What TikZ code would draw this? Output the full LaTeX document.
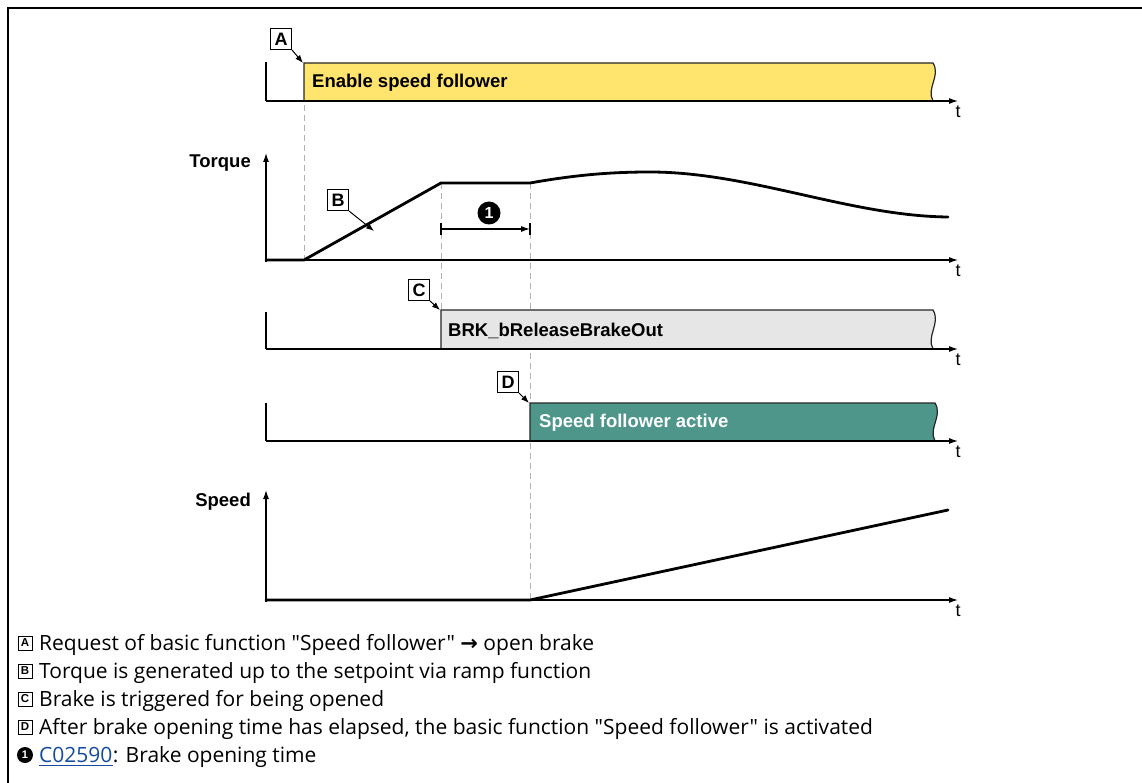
\documentclass[tikz,border=0pt]{standalone}
\usepackage{fontspec}
\setmainfont{Liberation Sans}
\newfontfamily\legendfont{Open Sans}
\newfontfamily\symfont{DejaVu Sans}
\usetikzlibrary{arrows.meta}
\definecolor{enyellow}{RGB}{255,228,110}
\definecolor{brkgray}{RGB}{230,230,230}
\definecolor{spteal}{RGB}{77,150,137}
\definecolor{linkblue}{RGB}{20,75,160}
\begin{document}
\begin{tikzpicture}[x=1pt,y=-1pt,
  axis/.style={line width=1.2pt,-{Latex[length=9pt,width=6pt]}},
  sig/.style={line width=1.2pt},
  barline/.style={draw=black!85,line width=1.2pt},
  curve/.style={line width=2.8pt,line join=round,line cap=round},
  guide/.style={draw=black!30,line width=1pt,dash pattern=on 6pt off 4pt},
  tag/.style={draw,fill=white,line width=1pt,minimum size=21pt,inner sep=0pt,font=\bfseries\fontsize{18}{18}\selectfont},
  pointer/.style={line width=1pt,-{Latex[length=8pt,width=6pt]}},
  lbl/.style={font=\bfseries\fontsize{18.5}{19}\selectfont,inner sep=0pt},
  tlbl/.style={font=\fontsize{18}{18}\selectfont,inner sep=0pt},
  legtag/.style={draw,line width=0.8pt,minimum size=14pt,inner sep=0pt,font=\bfseries\fontsize{11.5}{11.5}\selectfont},
  legtxt/.style={font=\legendfont\fontsize{21}{21}\selectfont,inner sep=0pt,anchor=base west},
  bigdot/.style={circle,fill=black,text=white,inner sep=0pt,minimum size=23pt,font=\bfseries\fontsize{16}{16}\selectfont},
  smalldot/.style={circle,fill=black,text=white,inner sep=0pt,minimum size=16pt,font=\bfseries\fontsize{11}{11}\selectfont}
]
\useasboundingbox (0,0) rectangle (1142,783);
% frame
\draw[line width=2.5pt] (8,783) -- (8,8) -- (1142,8);

% guide lines
\coordinate (gA1) at (304,85);
\coordinate (gA2) at (304,262);
\coordinate (gC1) at (441,183);
\coordinate (gC2) at (441,310);
\coordinate (gD1) at (530,183);
\coordinate (gD2) at (530,602);
\draw[guide] (gA1) -- (gA2);
\draw[guide] (gC1) -- (gC2);
\draw[guide] (gD1) -- (gD2);

% ---- Enable speed follower
\fill[enyellow] (304,101) -- (304,63) -- (933,63) .. controls (941,76) and (926,88) .. (933,101) -- cycle;
\draw[barline] (304,101) -- (304,63) -- (933,63) .. controls (941,76) and (926,88) .. (933,101);
\draw[sig] (266,62) -- (266,101);
\coordinate (ax1s) at (266,101);
\coordinate (ax1e) at (958,101);
\draw[axis] (ax1s) -- (ax1e);
\node[tlbl,anchor=north] (t1) at (958,106) {t};
\node[lbl,anchor=west] (en) at (312,83) {Enable speed follower};
\node[tag] (A) at (281,39) {A};
\coordinate (pA) at (303,63);
\draw[pointer] (A.south east) -- (pA);

% ---- Torque
\coordinate (ty0) at (266,262);
\coordinate (ty1) at (266,153);
\draw[axis] (ty0) -- (ty1);
\node[lbl,anchor=east] (torque) at (251,163) {Torque};
\coordinate (tx1) at (958,260);
\draw[axis] (ty0|-tx1) -- (tx1);
\node[tlbl,anchor=north] (t2) at (958,265) {t};
\draw[curve] (266,260) -- (304,260) -- (441,183) -- (530,183)
  .. controls (575,175) and (610,172) .. (650,172)
  .. controls (750,172) and (850,216) .. (948,217);
\node[tag] (B) at (338,200) {B};
\coordinate (pB) at (374,231);
\draw[pointer] (B.south east) -- (pB);
% dimension
\coordinate (d1) at (441,229);
\coordinate (d2) at (530,229);
\draw[line width=1.2pt,-{Latex[length=9pt,width=6pt]}] (d1) -- (d2);
\draw[line width=1.2pt] ([yshift=-6pt]d1) -- ([yshift=6pt]d1);
\draw[line width=1.2pt] ([yshift=-6pt]d2) -- ([yshift=6pt]d2);
\node[bigdot] (n1) at (489,213) {1};

% ---- BRK_bReleaseBrakeOut
\fill[brkgray] (441,349) -- (441,310) -- (933,310) .. controls (941,323) and (926,336) .. (933,349) -- cycle;
\draw[barline] (441,349) -- (441,310) -- (933,310) .. controls (941,323) and (926,336) .. (933,349);
\draw[sig] (266,312) -- (266,349);
\coordinate (ax3s) at (266,349);
\coordinate (ax3e) at (958,349);
\draw[axis] (ax3s) -- (ax3e);
\node[tlbl,anchor=north] (t3) at (958,354) {t};
\node[lbl,anchor=west] (brk) at (448,331) {BRK\_bReleaseBrakeOut};
\node[tag] (C) at (419,290) {C};
\coordinate (pC) at (440,310);
\draw[pointer] (C.south east) -- (pC);

% ---- Speed follower active
\fill[spteal] (530,441) -- (530,403) -- (935,403) .. controls (943,416) and (928,428) .. (935,441) -- cycle;
\draw[barline] (530,441) -- (530,403) -- (935,403) .. controls (943,416) and (928,428) .. (935,441);
\draw[sig] (266,403) -- (266,441);
\coordinate (ax4s) at (266,441);
\coordinate (ax4e) at (958,441);
\draw[axis] (ax4s) -- (ax4e);
\node[tlbl,anchor=north] (t4) at (958,446) {t};
\node[lbl,anchor=west,text=white] (spa) at (539,423) {Speed follower active};
\node[tag] (D) at (508,382) {D};
\coordinate (pD) at (529,403);
\draw[pointer] (D.south east) -- (pD);

% ---- Speed
\coordinate (sy0) at (266,602);
\coordinate (sy1) at (266,490);
\draw[axis] (sy0) -- (sy1);
\node[lbl,anchor=east] (speed) at (251,502) {Speed};
\coordinate (sx1) at (958,600);
\draw[axis] (sy0|-sx1) -- (sx1);
\node[tlbl,anchor=north] (t5) at (958,605) {t};
\draw[curve] (266,600) -- (530,600) -- (948,510);

% ---- Legend
\node[legtag] (LA) at (25,643) {A};
\node[legtxt] (l1) at (39,650) {Request of basic function "Speed follower" {\symfont\bfseries\fontsize{21}{21}\selectfont →} open brake};
\node[legtag] (LB) at (25,671) {B};
\node[legtxt] (l2) at (39,678) {Torque is generated up to the setpoint via ramp function};
\node[legtag] (LC) at (25,699) {C};
\node[legtxt] (l3) at (39,706) {Brake is triggered for being opened};
\node[legtag] (LD) at (25,727) {D};
\node[legtxt] (l4) at (39,734) {After brake opening time has elapsed, the basic function "Speed follower" is activated};
\node[smalldot] (Ln) at (25,755) {1};
\node[legtxt,text=linkblue] (link) at (39,762) {C02590};
\node[legtxt] (l5) at (link.base east) {: Brake opening time};
\draw[linkblue,line width=1.2pt] ([yshift=-3.5pt]link.base west) -- ([yshift=-3.5pt]link.base east);
\end{tikzpicture}
\end{document}
